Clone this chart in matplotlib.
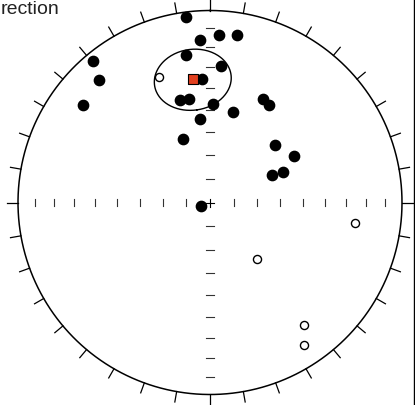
import numpy as np
import matplotlib
matplotlib.use('Agg')
import matplotlib.pyplot as plt
from matplotlib.lines import Line2D

# directions (declination, inclination)
dec_down = [352.5, 356.5, 3.2, 9.1, 320.4, 317.8, 350.8, 4.5, 356.2, 307.6,
            343.8, 348.4, 1.9, 353.2, 14.5, 27.2, 31.3, 337.0, 48.6, 61.1,
            65.6, 67.1, 247.6]
inc_down = [2.8, 16.4, 13.8, 12.8, 5.1, 15.3, 23.0, 29.2, 35.7, 17.8,
            43.5, 44.0, 47.3, 53.7, 49.8, 39.1, 40.2, 60.6, 52.8, 48.6,
            61.1, 56.2, 85.9]
dec_up = [338.0, 98.2, 140.3, 142.5, 146.4]
inc_up = [-30.3, -24.5, -58.7, -20.5, -12.2]
mean_dec = 352.0
mean_inc = 35.2
a95 = 14.5
title = 'rection'


def eqarea(dec, inc):
    dec = np.radians(np.asarray(dec, dtype=float))
    inc = np.radians(np.abs(np.asarray(inc, dtype=float)))
    r = np.sqrt(2) * np.sin((np.pi / 2 - inc) / 2)
    return r * np.sin(dec), r * np.cos(dec)


def small_circle(dec, inc, alpha, n=200):
    d, i, a = np.radians(dec), np.radians(inc), np.radians(alpha)
    m = np.array([np.cos(i) * np.cos(d), np.cos(i) * np.sin(d), np.sin(i)])
    u = np.array([-np.sin(i) * np.cos(d), -np.sin(i) * np.sin(d), np.cos(i)])
    v = np.cross(m, u)
    t = np.linspace(0, 2 * np.pi, n)
    pts = (np.cos(a) * m[:, None]
           + np.sin(a) * (np.cos(t)[None, :] * u[:, None] + np.sin(t)[None, :] * v[:, None]))
    decs = np.degrees(np.arctan2(pts[1], pts[0]))
    incs = np.degrees(np.arcsin(np.clip(pts[2], -1, 1)))
    return eqarea(decs, incs)


W, H = 415, 405
cx, cy, R = 210, 202.5, 192.0
fig = plt.figure(figsize=(W / 100, H / 100), dpi=100)
ax = fig.add_axes([0, 0, 1, 1])
ax.set_xlim(-cx / R, (W - cx) / R)
ax.set_ylim(-(H - cy) / R, cy / R)
ax.set_aspect('equal')
ax.axis('off')

# primitive circle
th = np.linspace(0, 2 * np.pi, 400)
ax.plot(np.sin(th), np.cos(th), color='black', lw=1.1)

# outer declination ticks every 10 degrees
for d in range(0, 360, 10):
    s, c = np.sin(np.radians(d)), np.cos(np.radians(d))
    ax.plot([s, 1.055 * s], [c, 1.055 * c], color='black', lw=0.9)

# inclination ticks along the axes
tl = 3.5 / R
for i in range(10, 90, 10):
    for d in (0, 90, 180, 270):
        x, y = eqarea(d, i)
        if d in (90, 270):
            ax.plot([x, x], [y - tl, y + tl], color='#333333', lw=0.8)
        else:
            ax.plot([x - 4.2 / R, x + 4.2 / R], [y, y], color='#333333', lw=0.8)
ax.plot([-4 / R, 4 / R], [0, 0], color='black', lw=0.8)
ax.plot([0, 0], [-4 / R, 4 / R], color='black', lw=0.8)

# confidence ellipse
ex, ey = small_circle(mean_dec, mean_inc, a95)
ax.plot(ex, ey, color='black', lw=1.0)

x, y = eqarea(dec_down, inc_down)
ax.scatter(x, y, s=55, color='black', zorder=3)
x, y = eqarea(dec_up, inc_up)
ax.scatter(x, y, s=34, facecolor='white', edgecolor='black', linewidth=1.0, zorder=3)
x, y = eqarea(mean_dec, mean_inc)
ax.scatter([x], [y], s=42, marker='s', facecolor='#e2401f', edgecolor='black',
           linewidth=0.8, zorder=4)

fig.text(0.002, 1 - 14.5 / H, title, fontsize=14, family='Liberation Sans',
         ha='left', va='baseline', color='#222222')
fig.add_artist(Line2D([413.5 / W, 413.5 / W], [0, 1], color='black', lw=1.0,
                      transform=fig.transFigure))

fig.savefig('out.png', dpi=100)
